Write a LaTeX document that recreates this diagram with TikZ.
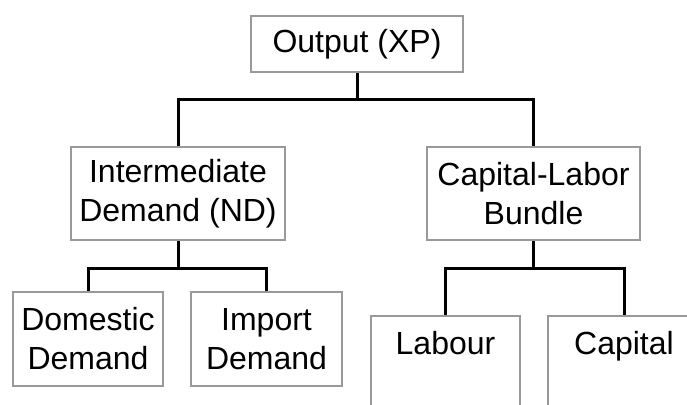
\documentclass[tikz,border=0pt]{standalone}
\usepackage{fontspec}
\setmainfont{Liberation Sans}
\definecolor{boxgray}{HTML}{999999}
\tikzset{
every picture/.style={
line width=1pt
}}

\begin{document}
\begin{tikzpicture}[x=1pt, y=-1pt,
box/.style = {rectangle, draw=boxgray, line width=2pt, align=center, inner sep=0pt,
 font=\fontsize{32}{39}\selectfont},
link/.style = {draw=black, line width=3pt}]

\useasboundingbox (0,0) rectangle (687,404);
\clip (0,0) rectangle (687,404);

% top level: 44, then 193.5, then 339 / 363
\node [box, minimum width=212, minimum height=56] (out) at (357,44) {Output (XP)};

\node [box, minimum width=214, minimum height=93] (inter) at (178,193.5) {Intermediate\\Demand (ND)};
\node [box, minimum width=213, minimum height=93] (clb) at (533.5,193.5) {Capital-Labor\\Bundle};

\node [box, minimum width=150, minimum height=94] (dom) at (88,339) {Domestic\\Demand};
\node [box, minimum width=151, minimum height=94] (imp) at (266.5,339) {Import\\Demand};

\node [box, minimum width=149, minimum height=94] (lab) at (445.5,363) {Labour\\\phantom{Demand}};
\node [box, minimum width=152, minimum height=94] (cap) at (624,363) {Capital\\\phantom{Demand}};

\draw [link] (out.south) -- ++(0,26) coordinate (j1);
\draw [link] (inter.north) |- (j1) -| (clb.north);

\draw [link] (inter.south) -- ++(0,27) coordinate (j2);
\draw [link] (dom.north) |- (j2) -| (imp.north);

\draw [link] (clb.south) -- ++(0,27) coordinate (j3);
\draw [link] (lab.north) |- (j3) -| (cap.north);

\end{tikzpicture}
\end{document}
